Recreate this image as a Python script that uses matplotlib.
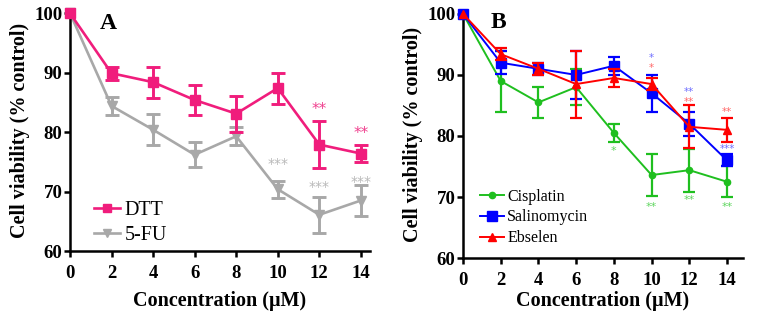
import numpy as np
import matplotlib.pyplot as plt

plt.rcParams['font.family'] = ['Liberation Serif', 'DejaVu Serif']

conc = [0, 2, 4, 6, 8, 10, 12, 14]

# panel A
dtt = [100, 89.9, 88.4, 85.4, 83.1, 87.4, 77.9, 76.4]
dtt_err = [0, 1.1, 2.6, 2.5, 3.0, 2.6, 4.0, 1.5]
fu = [100, 84.4, 80.4, 76.2, 79.3, 70.4, 66.1, 68.5]
fu_err = [0, 1.5, 2.6, 2.1, 1.5, 1.4, 3.0, 2.6]
dtt_stars = {12: (83.8, '**'), 14: (79.8, '**')}
fu_stars = {10: (74.6, '***'), 12: (70.8, '***'), 14: (71.6, '***')}

# panel B
cis = [100, 89.0, 85.5, 88.0, 80.5, 73.6, 74.4, 72.5]
cis_err = [0, 5.0, 2.5, 3.0, 1.5, 3.4, 3.5, 2.5]
sal = [100, 92.0, 91.0, 90.0, 91.5, 87.0, 82.0, 76.0]
sal_err = [0, 1.9, 1.0, 4.0, 1.5, 3.0, 2.0, 1.0]
ebs = [100, 93.4, 91.0, 88.5, 89.5, 88.5, 81.5, 81.0]
ebs_err = [0, 1.0, 1.0, 5.5, 1.5, 1.0, 3.5, 2.0]
cis_stars = {8: (77.6, '*'), 10: (68.3, '**'), 12: (69.5, '**'), 14: (68.3, '**')}
sal_stars = {10: (92.8, '*'), 12: (87.2, '**'), 14: (77.9, '***')}
ebs_stars = {10: (91.2, '*'), 12: (85.6, '**'), 14: (83.9, '**')}

fig = plt.figure(figsize=(7.59, 3.19), dpi=100)
axA = fig.add_axes([0.0922, 0.213, 0.395, 0.755])
axB = fig.add_axes([0.610, 0.191, 0.369, 0.777])


def style(ax, xmax, ytop, xpad):
    ax.set_xlim(0, xmax)
    ax.set_ylim(60, ytop)
    ax.set_xticks(conc)
    ax.set_yticks([60, 70, 80, 90, 100])
    for s in ['top', 'right']:
        ax.spines[s].set_visible(False)
    for s in ['left', 'bottom']:
        ax.spines[s].set_linewidth(1.8)
    ax.tick_params(width=1.8, length=4.5, labelsize=13.5)
    ax.tick_params(axis='y', pad=1)
    ax.tick_params(axis='x', pad=5.5)
    for lab in ax.get_xticklabels() + ax.get_yticklabels():
        lab.set_fontweight('bold')
    ax.set_xlabel('Concentration (\u03bcM)', fontsize=14.5, fontweight='bold', labelpad=xpad)
    ax.set_ylabel('Cell viability (% control)', fontsize=14.5, fontweight='bold', labelpad=3)


def stars(ax, d, color, size=9):
    for x, (y, s) in d.items():
        ax.text(x, y, s, color=color, ha='center', va='center', fontsize=size,
                fontfamily='DejaVu Sans')


def series(ax, y, err, color, marker, ms, lw, cap, label, z):
    line, = ax.plot(conc, y, color=color, marker=marker, ms=ms, lw=lw, label=label,
                    clip_on=False, zorder=z)
    ax.errorbar(conc[1:], y[1:], yerr=err[1:], fmt='none', ecolor=color, elinewidth=lw + 0.2,
                capsize=cap, capthick=lw + 0.2, clip_on=False, zorder=z)
    return line


# ---- A ----
lA = [series(axA, dtt, dtt_err, '#f01d7c', 's', 7.5, 1.9, 5, 'DTT', 3),
      series(axA, fu, fu_err, '#a8a8a8', 'v', 7.5, 1.9, 5, '5-FU', 2)]
stars(axA, dtt_stars, '#f0408e', 11)
stars(axA, fu_stars, '#b8b8b8', 10)
style(axA, 14.43, 100.5, 6.5)
axA.text(1.45, 100.0, 'A', fontsize=17, fontweight='bold', va='top')
axA.legend(handles=lA, loc='lower left', bbox_to_anchor=(0.02, -0.05), frameon=False,
           fontsize=14.5, handlelength=1.3, labelspacing=0.3, handletextpad=0.2,
           markerscale=0.7)

# ---- B ----
lB = [series(axB, cis, cis_err, '#1fbf1f', 'o', 4.5, 1.4, 4, 'Cisplatin', 2),
      series(axB, sal, sal_err, '#0000ff', 's', 6.5, 1.4, 4, 'Salinomycin', 3),
      series(axB, ebs, ebs_err, '#ff0000', '^', 5.5, 1.4, 4, 'Ebselen', 4)]
stars(axB, cis_stars, '#5fd65f', 8)
stars(axB, sal_stars, '#7070ff', 7.5)
stars(axB, ebs_stars, '#ff6a6a', 7.5)
style(axB, 14.85, 100.6, 1.5)
axB.text(1.45, 100.3, 'B', fontsize=17, fontweight='bold', va='top')
axB.legend(handles=lB, loc='lower left', bbox_to_anchor=(0.01, -0.01), frameon=False,
           fontsize=11.5, handlelength=1.5, labelspacing=0.3, handletextpad=0.2)

fig.savefig('out.png', dpi=100)
